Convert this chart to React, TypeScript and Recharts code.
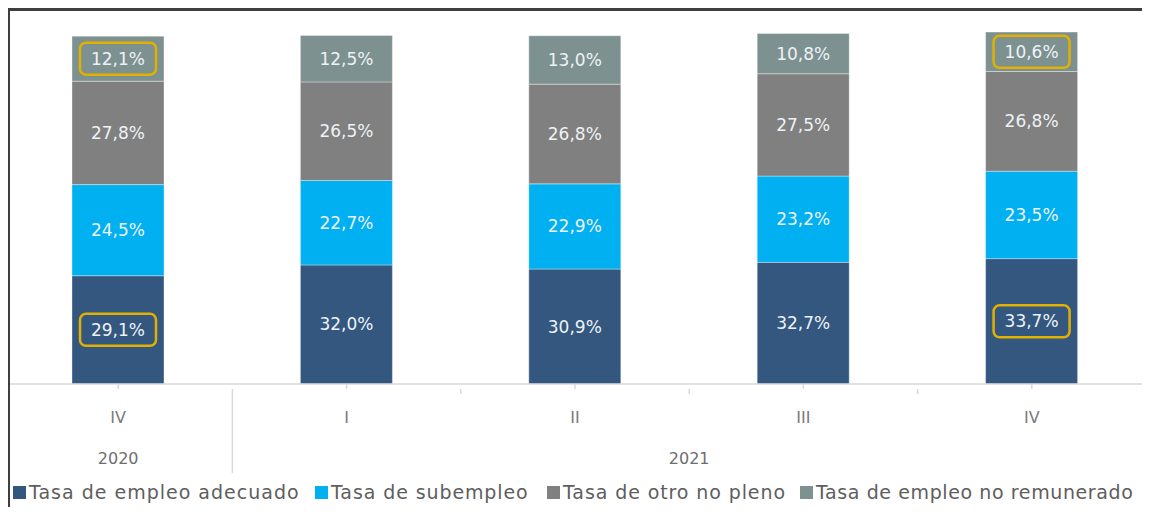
import React from 'react';
import { BarChart, Bar, XAxis, YAxis, LabelList } from 'recharts';

const quarters = ['IV', 'I', 'II', 'III', 'IV'];
const years = ['2020', '2021', '2021', '2021', '2021'];
const adecuado = [29.1, 32.0, 30.9, 32.7, 33.7];
const subempleo = [24.5, 22.7, 22.9, 23.2, 23.5];
const otroNoPleno = [27.8, 26.5, 26.8, 27.5, 26.8];
const noRemunerado = [12.1, 12.5, 13.0, 10.8, 10.6];
const highlightedIndexes = [0, 4];
const highlightedSeries = ['adecuado', 'noRemunerado'];

const seriesKeys = ['adecuado', 'subempleo', 'otroNoPleno', 'noRemunerado'];
const seriesNames = [
  'Tasa de empleo adecuado',
  'Tasa de subempleo',
  'Tasa de otro no pleno',
  'Tasa de empleo no remunerado',
];
const seriesColors = ['#345780', '#00B0F0', '#808080', '#7D9191'];

const data = quarters.map((q, i) => ({
  quarter: q,
  year: years[i],
  adecuado: adecuado[i],
  subempleo: subempleo[i],
  otroNoPleno: otroNoPleno[i],
  noRemunerado: noRemunerado[i],
}));

const W = 1150;
const H = 515;
const MARGIN = { top: 12, right: 4, left: 4, bottom: 0 };
const PLOT_W = W - MARGIN.left - MARGIN.right;
const STEP = PLOT_W / data.length;
const FONT = '"DejaVu Sans", sans-serif';
const legendLefts = [13, 315, 547, 800];
const legendSpacing = [1.0, 0.9, 0.9, 0.6];

const fmt = (v: number) => v.toFixed(1).replace('.', ',') + '%';

const makeLabel = (key: string) => (props: any) => {
  const { x, y, width, height, value, index } = props;
  const cx = Number(x) + Number(width) / 2;
  const cy = Number(y) + Number(height) / 2;
  const hl = highlightedSeries.includes(key) && highlightedIndexes.includes(index);
  return (
    <g>
      {hl && (
        <rect x={cx - 38} y={cy - 16} width={76} height={32} rx={6} ry={6}
          fill="none" stroke="#E2B000" strokeWidth={2.5} />
      )}
      <text x={cx} y={cy} textAnchor="middle" dominantBaseline="central"
        fill="#EEF2F6" fontSize={17} fontFamily={FONT}>
        {fmt(Number(value))}
      </text>
    </g>
  );
};

const CustomTick = (props: any) => {
  const { x, y, payload, index } = props;
  const base = y;
  const i = payload?.index ?? index;
  const isFirstOfYear = i === 0 || years[i] !== years[i - 1];
  const isLast = i === data.length - 1;
  let groupCount = 0;
  if (isFirstOfYear) {
    let j = i;
    while (j < years.length && years[j] === years[i]) { groupCount++; j++; }
  }
  const yearX = x + ((groupCount - 1) / 2) * STEP;
  return (
    <g>
      <text x={x} y={base + 28} textAnchor="middle" dominantBaseline="central"
        fill="#7A7A7A" fontSize={16} fontFamily={FONT}>{payload.value}</text>
      {isFirstOfYear && (
        <text x={yearX} y={base + 69} textAnchor="middle" dominantBaseline="central"
          fill="#6E6E6E" fontSize={16} fontFamily={FONT}>{years[i]}</text>
      )}
      {isFirstOfYear && i > 0 && (
        <line x1={x - STEP / 2} x2={x - STEP / 2} y1={base} y2={base + 84} stroke="#D9D9D9" strokeWidth={1.5} />
      )}
      {!isFirstOfYear && (
        <line x1={x - STEP / 2} x2={x - STEP / 2} y1={base} y2={base + 5} stroke="#D9D9D9" strokeWidth={1.5} />
      )}
      {isLast && (
        <line x1={x + STEP / 2} x2={x + STEP / 2} y1={base} y2={base + 84} stroke="#D9D9D9" strokeWidth={1.5} />
      )}
    </g>
  );
};

export default function App() {
  return (
    <div style={{ position: 'relative', width: W, height: H, margin: -8, background: '#fff', overflow: 'hidden' }}>
      <BarChart width={W} height={H} data={data} margin={MARGIN} barSize={92}>
        <XAxis dataKey="quarter" height={H - 384} axisLine={{ stroke: '#D9D9D9', strokeWidth: 1.5 }}
          tickLine={{ stroke: '#D9D9D9', strokeWidth: 1.5 }} tickSize={5} tickMargin={0}
          tick={<CustomTick />} interval={0} />
        <YAxis hide domain={[0, 100]} />
        {seriesKeys.map((k, si) => (
          <Bar key={k} dataKey={k} name={seriesNames[si]} stackId="a" fill={seriesColors[si]}
            stroke="#FFFFFF" strokeOpacity={0.35} strokeWidth={1} isAnimationActive={false}>
            <LabelList dataKey={k} content={makeLabel(k)} />
          </Bar>
        ))}
      </BarChart>
      {seriesNames.map((n, si) => (
        <div key={n} style={{ position: 'absolute', left: legendLefts[si], top: 481, display: 'flex', alignItems: 'center', fontFamily: FONT, fontSize: 19, color: '#5E5E5E', whiteSpace: 'nowrap', letterSpacing: legendSpacing[si] }}>
          <span style={{ display: 'inline-block', width: 13, height: 13, background: seriesColors[si], marginRight: 3 }} />
          <span>{n}</span>
        </div>
      ))}
      <div style={{ position: 'absolute', left: 4, top: 5, width: W - 4, height: 6, background: '#3F3F3F' }} />
      <div style={{ position: 'absolute', left: 4, top: 5, width: 6, height: H - 5, background: '#3F3F3F' }} />
      <div style={{ position: 'absolute', left: 4, top: H - 3, width: W - 4, height: 3, background: '#3F3F3F' }} />
    </div>
  );
}
